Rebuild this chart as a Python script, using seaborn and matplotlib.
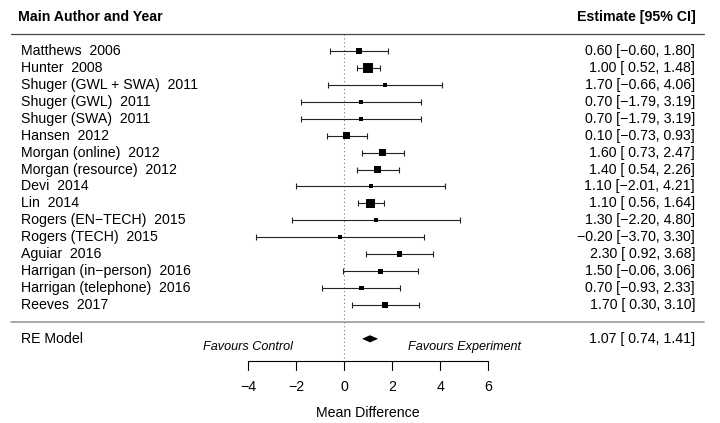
import numpy as np
import pandas as pd
import matplotlib
matplotlib.use("Agg")
import matplotlib.pyplot as plt
import seaborn as sns

# ---- data ----
studies = [
    "Matthews  2006", "Hunter  2008", "Shuger (GWL + SWA)  2011", "Shuger (GWL)  2011",
    "Shuger (SWA)  2011", "Hansen  2012", "Morgan (online)  2012", "Morgan (resource)  2012",
    "Devi  2014", "Lin  2014", "Rogers (EN\u2212TECH)  2015", "Rogers (TECH)  2015",
    "Aguiar  2016", "Harrigan (in\u2212person)  2016", "Harrigan (telephone)  2016", "Reeves  2017",
]
estimates = [0.60, 1.00, 1.70, 0.70, 0.70, 0.10, 1.60, 1.40, 1.10, 1.10, 1.30, -0.20, 2.30, 1.50, 0.70, 1.70]
lower = [-0.60, 0.52, -0.66, -1.79, -1.79, -0.73, 0.73, 0.54, -2.01, 0.56, -2.20, -3.70, 0.92, -0.06, -0.93, 0.30]
upper = [1.80, 1.48, 4.06, 3.19, 3.19, 0.93, 2.47, 2.26, 4.21, 1.64, 4.80, 3.30, 3.68, 3.06, 2.33, 3.10]
re_label = "RE Model"
re_est, re_lb, re_ub = 1.07, 0.74, 1.41
x_ticks = [-4, -2, 0, 2, 4, 6]
x_label = "Mean Difference"
left_header = "Main Author and Year"
right_header = "Estimate [95% CI]"
favours = ["Favours Control", "Favours Experiment"]

# ---- derived quantities ----
est = np.array(estimates); lb = np.array(lower); ub = np.array(upper)
k = len(est)
vi = ((ub - lb) / (2 * 1.959964)) ** 2
target = ((2 * 1.959964) / (re_ub - re_lb)) ** 2   # total RE weight implied by RE CI
lo_t, hi_t = 0.0, 10.0
for _ in range(100):
    mid = (lo_t + hi_t) / 2
    if np.sum(1 / (vi + mid)) > target:
        lo_t = mid
    else:
        hi_t = mid
tau2 = (lo_t + hi_t) / 2
w = 1 / (vi + tau2)
w = w / w.sum()
psize = (w - w.min()) / (w.max() - w.min()) + 0.5
side_px = 4 + (psize - 0.5) * 6.2
side_pt = side_px * 72 / 100
sizes = side_pt ** 2

ypos = np.arange(k, 0, -1)
df = pd.DataFrame({"study": studies, "est": est, "lb": lb, "ub": ub, "y": ypos, "s": sizes})

def fmt(v, width=0):
    s = f"{v:{width}.2f}"
    return s.replace("-", "\u2212")

# ---- figure ----
sns.set_theme(style="white")
plt.rcParams["font.family"] = ["Liberation Sans", "DejaVu Sans"]
plt.rcParams["text.color"] = "black"
FS = 10.2

fig = plt.figure(figsize=(7.2, 4.23), dpi=100)
ax = fig.add_axes([0, 0, 1, 1])
ax.set_xlim(-14.346, 15.654)
ax.set_ylim(-5.973, 19.012)
ax.axis("off")

# reference line at 0
ax.plot([0, 0], [17, -2.31], color="#777777", lw=0.8, ls=(0, (1, 2.5)), zorder=1)

# header lines
ax.plot([-13.875, 14.99], [17, 17], color="#444444", lw=0.9, zorder=1)
ax.plot([-13.875, 14.99], [0, 0], color="#999999", lw=1.2, zorder=1)

# CIs
ax.errorbar(df["est"], df["y"], xerr=[df["est"] - df["lb"], df["ub"] - df["est"]],
            fmt="none", ecolor="#222222", elinewidth=0.8, capsize=2.4, capthick=0.8, zorder=2)
# squares
sns.scatterplot(data=df, x="est", y="y", s=df["s"].values, marker="s", color="black",
                linewidth=0, ax=ax, legend=False, zorder=3)
ax.set_xlabel(""); ax.set_ylabel("")

# RE diamond
h = 0.21
ax.fill([re_lb, re_est, re_ub, re_est], [-1, -1 + h, -1, -1 - h], color="black", lw=0, zorder=3)

# texts
for _, r in df.iterrows():
    ax.text(-13.483, r["y"], r["study"], ha="left", va="center", fontsize=FS, color="black")
    ax.text(14.6125, r["y"], f"{fmt(r['est'])} [{fmt(r['lb'], 5)}, {fmt(r['ub'])}]",
            ha="right", va="center", fontsize=FS, color="black")
ax.text(-13.483, -1, re_label, ha="left", va="center", fontsize=FS, color="black")
ax.text(14.6125, -1, f"{fmt(re_est)} [{fmt(re_lb, 5)}, {fmt(re_ub)}]", ha="right", va="center",
        fontsize=FS, color="black")
ax.text(-13.58, 18, left_header, ha="left", va="center", fontsize=FS, fontweight="bold", color="black")
ax.text(14.65, 18, right_header, ha="right", va="center", fontsize=FS, fontweight="bold", color="black")

ax.text(-4, -1.51, favours[0], ha="center", va="center", fontsize=9.1, style="italic", color="black")
ax.text(5, -1.51, favours[1], ha="center", va="center", fontsize=9.1, style="italic", color="black")

# x axis
ax.plot([min(x_ticks), max(x_ticks)], [-2.31, -2.31], color="black", lw=0.8)
for t in x_ticks:
    ax.plot([t, t], [-2.31, -2.84], color="black", lw=0.8)
    ax.text(t, -3.86, fmt(t, 0).replace(".00", ""), ha="center", va="center", fontsize=FS, color="black")
ax.text((min(x_ticks) + max(x_ticks)) / 2, -5.38, x_label, ha="center", va="center", fontsize=FS,
        color="black")

fig.savefig("out.png", dpi=100)
